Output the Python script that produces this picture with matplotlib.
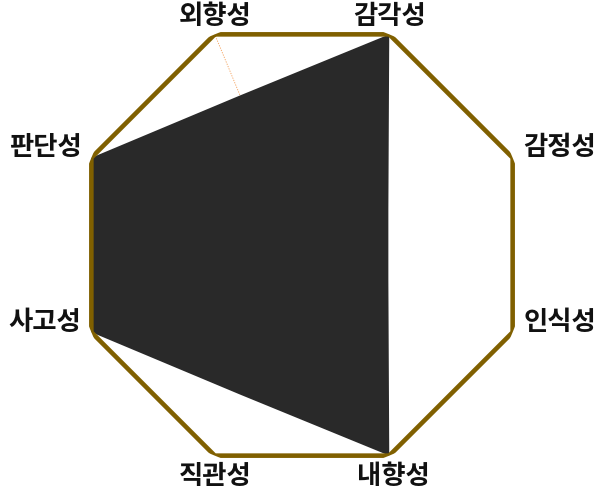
import numpy as np
import matplotlib
matplotlib.use("Agg")
import matplotlib.pyplot as plt

plt.rcParams['font.family'] = ['Noto Sans CJK KR', 'DejaVu Sans']

categories = ['외향성', '감각성', '감정성', '인식성', '내향성', '직관성', '사고성', '판단성']
values = [0.71, 1.0, 0.41, 0.41, 1.0, 0.71, 1.0, 1.0]
max_value = 1.0

n = len(categories)
angles = np.arange(n) * 2 * np.pi / n

fig = plt.figure(figsize=(6.02, 4.93), dpi=100)
ax = fig.add_axes([74 / 602, 20 / 493, 456 / 602, 456 / 493], projection='polar')
ax.set_theta_offset(np.radians(112.5))
ax.set_theta_direction(-1)
ax.set_ylim(0, max_value)
ax.grid(False)
ax.set_xticks([])
ax.set_yticks([])
ax.spines['polar'].set_visible(False)
ax.patch.set_alpha(0)

# spoke for first axis (visible in white area)
ax.plot([angles[0], angles[0]], [0, max_value], color='#f5a05a', lw=0.6,
        ls=(0, (1.5, 1.5)), zorder=1)

# data polygon
th = np.append(angles, angles[0])
vals = np.append(values, values[0])
ax.fill(th, vals, color='#292929', zorder=2, lw=0)

# outer octagon
ax.plot(th, np.full(n + 1, max_value), color='#806000', lw=3.3, zorder=3,
        solid_joinstyle='miter')

# labels
offsets = {
    0: (0, 4, 'center', 'bottom'),
    1: (0, 4, 'center', 'bottom'),
    2: (11, 10, 'left', 'center'),
    3: (11, 10, 'left', 'center'),
    4: (4, -7, 'center', 'top'),
    5: (0, -7, 'center', 'top'),
    6: (-10, 10, 'right', 'center'),
    7: (-10, 10, 'right', 'center'),
}
for i, lab in enumerate(categories):
    dx, dy, ha, va = offsets[i]
    ax.annotate(lab, xy=(angles[i], max_value), xytext=(dx, dy),
                textcoords='offset pixels', ha=ha, va=va,
                fontsize=19, fontweight='bold', color='#111111',
                annotation_clip=False)

fig.savefig('out.png', dpi=100)
